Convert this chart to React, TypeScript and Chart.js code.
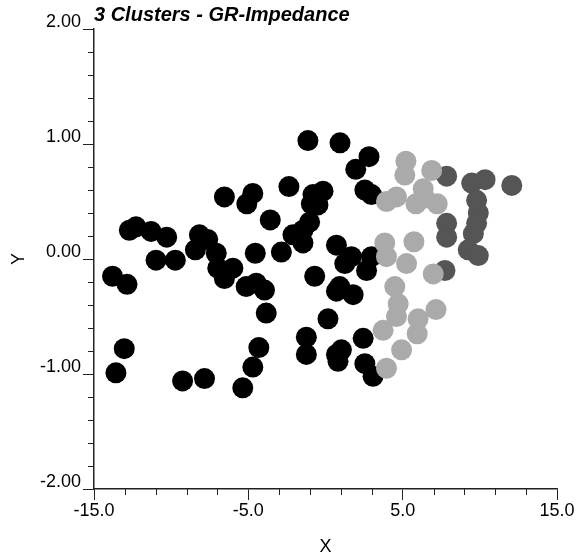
import { useEffect, useRef } from 'react';
import { Chart, registerables } from 'chart.js';

Chart.register(...registerables);

const titleText = '3 Clusters - GR-Impedance';
const xAxisTitle = 'X';
const yAxisTitle = 'Y';

const xMajorTicks = [-15, -5, 5, 15];
const xMinorTicks = [-13, -11, -9, -7, -3, -1, 1, 3, 7, 9, 11, 13];
const yMajorTicks = [-2, -1, 0, 1, 2];
const yMinorTicks = [-1.8, -1.6, -1.4, -1.2, -0.8, -0.6, -0.4, -0.2, 0.2, 0.4, 0.6, 0.8, 1.2, 1.4, 1.6, 1.8];

// Cluster 1 (black)
const blackX = [
  -1.14, 0.94, -6.55, -4.71, -5.1, -2.37, -0.81, -0.16, -0.49, -0.92, -3.58, -1.03, -1.46, -2.11, -2.86, -1.46,
  -12.71, -12.28, -11.3, -10.29, -10.98, -9.73, -8.17, -7.63, -8.43, -7.08, -6.98, -6.55, -6.0, -5.14, -4.49,
  -3.95, -4.55, -13.8, -12.86, -3.84, -0.7, 0.71, 0.16, -1.24, -1.24, 0.71, -13.04, -13.58, -9.26, -7.84,
  -4.32, -4.71, -5.36, 2.82, 1.96, 2.55, 2.98, 0.71, 1.68, 1.25, 2.98, 2.66, 0.92, 1.79, 2.44, 1.03, 0.81,
  2.55, 3.08,
];
const blackY = [
  1.03, 1.01, 0.54, 0.57, 0.48, 0.63, 0.56, 0.59, 0.47, 0.48, 0.34, 0.32, 0.25, 0.21, 0.06, 0.14,
  0.25, 0.28, 0.24, 0.19, -0.01, -0.01, 0.21, 0.17, 0.08, 0.05, -0.08, -0.17, -0.08, -0.24, -0.21,
  -0.27, 0.05, -0.15, -0.22, -0.47, -0.15, -0.28, -0.52, -0.68, -0.83, -0.83, -0.78, -0.99, -1.06, -1.04,
  -0.77, -0.94, -1.12, 0.89, 0.78, 0.6, 0.56, 0.12, 0.02, -0.04, 0.02, -0.1, -0.24, -0.31, -0.69, -0.79, -0.89,
  -0.91, -1.02,
];

// Cluster 2 (light grey)
const lightX = [
  5.21, 5.14, 6.88, 3.95, 4.6, 5.86, 6.33, 6.44, 7.24, 3.84, 3.95, 5.73, 5.25, 6.98, 4.49, 4.71, 4.6, 6.0,
  7.16, 5.94, 3.73, 4.93, 3.95,
];
const lightY = [
  0.85, 0.73, 0.77, 0.5, 0.54, 0.48, 0.61, 0.53, 0.48, 0.14, 0.02, 0.15, -0.04, -0.13, -0.24, -0.39, -0.5, -0.52,
  -0.44, -0.65, -0.62, -0.79, -0.95,
];

// Cluster 3 (dark grey)
const darkX = [7.85, 9.47, 10.34, 12.07, 9.79, 9.9, 9.79, 7.85, 7.85, 9.58, 9.25, 9.9, 7.74];
const darkY = [0.72, 0.66, 0.69, 0.64, 0.51, 0.4, 0.31, 0.31, 0.19, 0.22, 0.08, 0.03, -0.1];

const toPoints = (xs: number[], ys: number[]) => xs.map((x, i) => ({ x, y: ys[i] }));

const FONT = "'Liberation Sans', Arial, Helvetica, sans-serif";

const minorTicksPlugin = {
  id: 'minorTicks',
  afterDraw(chart: any) {
    const { ctx, scales } = chart;
    const xs = scales.x;
    const ys = scales.y;
    ctx.save();
    ctx.strokeStyle = '#222';
    ctx.lineWidth = 1;
    xMinorTicks.forEach((v) => {
      const px = Math.round(xs.getPixelForValue(v)) + 0.5;
      ctx.beginPath();
      ctx.moveTo(px, xs.top);
      ctx.lineTo(px, xs.top + 6);
      ctx.stroke();
    });
    yMinorTicks.forEach((v) => {
      const py = Math.round(ys.getPixelForValue(v)) + 0.5;
      ctx.beginPath();
      ctx.moveTo(ys.right - 6, py);
      ctx.lineTo(ys.right, py);
      ctx.stroke();
    });
    ctx.restore();
  },
};

export default function App() {
  const canvasRef = useRef<HTMLCanvasElement | null>(null);

  useEffect(() => {
    document.body.style.margin = '0';
    const canvas = canvasRef.current;
    if (!canvas) return;
    const chart = new Chart(canvas, {
      type: 'scatter',
      data: {
        datasets: [
          {
            label: 'Cluster 2',
            data: toPoints(lightX, lightY),
            backgroundColor: '#aaaaaa',
            borderWidth: 0,
            pointRadius: 10.5,
          },
          {
            label: 'Cluster 1',
            data: toPoints(blackX, blackY),
            backgroundColor: '#000000',
            borderWidth: 0,
            pointRadius: 10.5,
          },
          {
            label: 'Cluster 3',
            data: toPoints(darkX, darkY),
            backgroundColor: '#555555',
            borderWidth: 0,
            pointRadius: 10.5,
          },
        ],
      },
      options: {
        responsive: false,
        animation: false,
        events: [],
        layout: { padding: { left: 6, right: 19, top: 0, bottom: 0 } },
        plugins: {
          legend: { display: false },
          tooltip: { enabled: false },
          title: {
            display: true,
            text: titleText,
            align: 'start',
            fullSize: false,
            color: '#000',
            font: { family: FONT, size: 20, weight: 'bold', style: 'italic', lineHeight: 1.2 },
            padding: { top: 3, bottom: 2 },
          },
        },
        scales: {
          x: {
            type: 'linear',
            min: -15,
            max: 15,
            afterBuildTicks: (scale: any) => {
              scale.ticks = xMajorTicks.map((v) => ({ value: v }));
            },
            afterFit: (scale: any) => {
              scale.height = 70;
            },
            border: { display: true, color: '#222', width: 1.5 },
            grid: { drawOnChartArea: false, drawTicks: true, tickLength: 11, color: '#222', lineWidth: 1 },
            ticks: {
              color: '#000',
              font: { family: FONT, size: 18 },
              padding: 0,
              maxRotation: 0,
              autoSkip: false,
              callback: (v: any) => Number(v).toFixed(1),
            },
            title: {
              display: true,
              text: xAxisTitle,
              color: '#000',
              font: { family: FONT, size: 18 },
              padding: { top: 0, bottom: 1 },
            },
          },
          y: {
            type: 'linear',
            min: -2,
            max: 2,
            afterBuildTicks: (scale: any) => {
              scale.ticks = yMajorTicks.map((v) => ({ value: v }));
            },
            afterFit: (scale: any) => {
              scale.width = 88;
            },
            border: { display: true, color: '#222', width: 1.5 },
            grid: { drawOnChartArea: false, drawTicks: true, tickLength: 11, color: '#222', lineWidth: 1 },
            ticks: {
              color: '#000',
              font: { family: FONT, size: 18 },
              padding: 2,
              labelOffset: -7,
              autoSkip: false,
              callback: (v: any) => Number(v).toFixed(2),
            },
            title: {
              display: true,
              text: yAxisTitle,
              color: '#000',
              font: { family: FONT, size: 18 },
              padding: { top: 2, bottom: 0 },
            },
          },
        },
      },
      plugins: [minorTicksPlugin],
    });
    return () => chart.destroy();
  }, []);

  return (
    <div style={{ width: 576, height: 559 }}>
      <canvas ref={canvasRef} width={576} height={559} />
    </div>
  );
}
